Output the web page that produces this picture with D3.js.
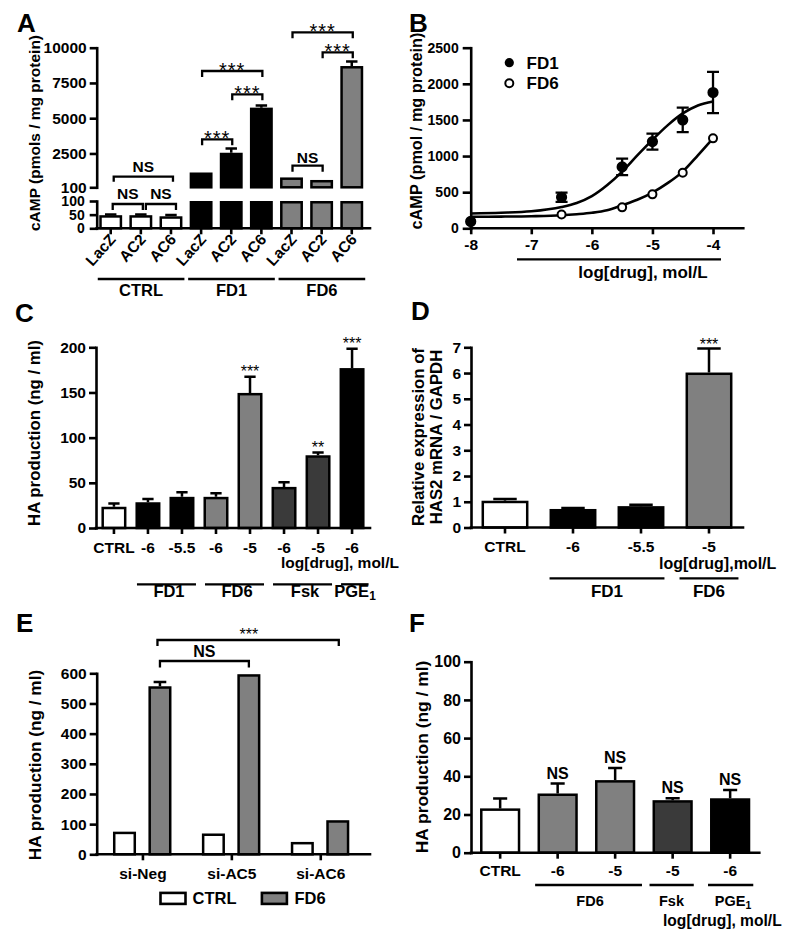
<!DOCTYPE html>
<html><head><meta charset="utf-8">
<script src="https://cdn.jsdelivr.net/npm/d3@7"></script>
<style>body{margin:0;background:#fff}svg{display:block}</style>
</head><body>
<script>
// ================= DATA =================
// Panel A
const aGroups = ["CTRL","FD1","FD6"];
const aConstructs = ["LacZ","AC2","AC6"];
const aValues = [48,48,44, 1150,2550,5750, 800,620,8700];
const aErrors = [3,3,5, 0,300,150, 0,15,330];
const aUpperTicks = [100,2500,5000,7500,10000];
const aLowerTicks = [0,50,100];
// Panel B
const bDoses = [-8,-6.5,-5.5,-5,-4.5,-4];
const bFD1 = [95,430,850,1200,1500,1880];
const bFD1Err = [0,65,115,110,170,285];
const bFD6 = [90,190,290,470,770,1245];
const bFD6Err = [0,0,0,0,0,0];
const bFitDoses = [-8,-7.5,-7,-6.5,-6.25,-6,-5.75,-5.5,-5.25,-5,-4.75,-4.5,-4.25,-4];
const bFitFD1 = [205,215,235,295,350,445,595,785,1010,1225,1425,1590,1700,1755];
const bFitFD6 = [160,162,167,180,195,215,250,320,395,495,625,785,1010,1245];
const bXTicks = [-8,-7,-6,-5,-4];
const bYTicks = [0,500,1000,1500,2000,2500];
// Panel C
const cLabels = ["CTRL","-6","-5.5","-6","-5","-6","-5","-6"];
const cGroups = ["CTRL","FD1","FD1","FD6","FD6","Fsk","Fsk","PGE1"];
const cValues = [23.5,28.5,34.5,34.5,149.5,45.5,80.5,177];
const cErrors = [3.5,3.5,5,4,18,5,3,21.5];
const cStars = ["","","","","***","","**","***"];
const cYTicks = [0,50,100,150,200];
// Panel D
const dLabels = ["CTRL","-6","-5.5","-5"];
const dGroups = ["CTRL","FD1","FD1","FD6"];
const dValues = [1.04,0.72,0.83,6.02];
const dErrors = [0.07,0.04,0.05,0.93];
const dStars = ["","","","***"];
const dYTicks = [0,1,2,3,4,5,6,7];
// Panel E
const eGroups = ["si-Neg","si-AC5","si-AC6"];
const eSeries = ["CTRL","FD6"];
const eCTRL = [75,69,41];
const eCTRLErr = [2,1,1];
const eFD6 = [557,597,113];
const eFD6Err = [14,2,1];
const eYTicks = [0,100,200,300,400,500,600];
// Panel F
const fLabels = ["CTRL","-6","-5","-5","-6"];
const fGroups = ["CTRL","FD6","FD6","Fsk","PGE1"];
const fValues = [23.2,31,38,27.5,28.5];
const fErrors = [5.2,5.2,6.4,1,4.3];
const fSig = ["","NS","NS","NS","NS"];
const fYTicks = [0,20,40,60,80,100];

// ================= DRAWING =================
const FF = "'Liberation Sans', Arial, Helvetica, sans-serif";
const SW = 2.6;
const fillScale = d3.scaleOrdinal().domain(["CTRL","FD1","FD6","Fsk","PGE1"])
  .range(["#ffffff","#000000","#808080","#3a3a3a","#000000"]);

const svg = d3.select("body").append("svg").attr("width",800).attr("height",938)
  .style("font-family",FF);

function addText(g,x,y,s,o={}){
  const t=g.append("text").attr("x",x).attr("y",y).text(s)
    .attr("font-family",FF).attr("font-weight",o.weight||"bold").attr("font-size",o.size||15.5)
    .attr("text-anchor",o.anchor||"middle").attr("fill","#000");
  if(o.rotate!=null) t.attr("transform",`rotate(${o.rotate},${x},${y})`);
  if(o.ls) t.attr("letter-spacing",o.ls);
  return t;
}
function styleAxis(ax,size){
  ax.attr("font-family",FF).attr("font-size",size||15.5).attr("font-weight","bold");
  ax.selectAll("path.domain").attr("stroke","#000").attr("stroke-width",SW).attr("stroke-linecap","square");
  ax.selectAll(".tick line").attr("stroke","#000").attr("stroke-width",SW);
  ax.selectAll(".tick text").attr("fill","#000");
}
function yAxis(g,scale,ticks,x,size,tick,pad){
  const ax=g.append("g").attr("transform",`translate(${x},0)`)
    .call(d3.axisLeft(scale).tickValues(ticks).tickSize(tick||7).tickSizeOuter(0).tickPadding(pad||3).tickFormat(d3.format("d")));
  styleAxis(ax,size);
  return ax;
}
function xAxis(g,scale,y,x1,x2,labels,pad,size,tickVals){
  const axis=d3.axisBottom(scale).tickSize(6).tickSizeOuter(0).tickPadding(pad||7);
  if(tickVals) axis.tickValues(tickVals);
  if(labels) axis.tickFormat((d,i)=>labels[i]); else axis.tickFormat("");
  const ax=g.append("g").attr("transform",`translate(0,${y})`).call(axis);
  styleAxis(ax,size);
  ax.select("path.domain").remove();
  g.append("line").attr("x1",x1).attr("x2",x2).attr("y1",y).attr("y2",y)
    .attr("stroke","#000").attr("stroke-width",SW).attr("stroke-linecap","square");
  return ax;
}
function drawBar(g,x,y0,y1,w,fill){
  const s=2.5;
  g.append("rect").attr("x",x+s/2).attr("y",y0+s/2).attr("width",w-s)
    .attr("height",Math.max(0,y1-y0-s/2)).attr("fill",fill).attr("stroke","#000").attr("stroke-width",s);
}
function errBar(g,cx,yTop,yErr,cap){
  if(yTop-yErr<0.8) return;
  g.append("path").attr("d",`M${cx},${yTop}V${yErr}M${cx-cap/2},${yErr}H${cx+cap/2}`)
    .attr("stroke","#000").attr("stroke-width",2.5).attr("fill","none");
}
function bracket(g,x1,x2,y,leg){
  g.append("path").attr("d",`M${x1},${y+leg}V${y}H${x2}V${y+leg}`)
    .attr("fill","none").attr("stroke","#000").attr("stroke-width",2.3);
}
function hline(g,x1,x2,y){
  g.append("line").attr("x1",x1).attr("x2",x2).attr("y1",y).attr("y2",y)
    .attr("stroke","#000").attr("stroke-width",2.3);
}
function subLabel(g,x,y,base,sub,size){
  const t=addText(g,x,y,"",{size});
  t.append("tspan").text(base);
  t.append("tspan").text(sub).attr("font-size",size*0.72).attr("dy",3);
  return t;
}

// ---------- Panel A ----------
(function(){
  const g=svg.append("g");
  addText(g,17,32,"A",{size:26,anchor:"start"});
  const xA=d3.scaleBand().domain(d3.range(aValues.length)).range([97,370])
    .paddingInner(0.24).paddingOuter(0.15).align(0.25);
  const yU=d3.scaleLinear().domain([100,10000]).range([187.3,47.7]);
  const yL=d3.scaleLinear().domain([0,100]).range([228.3,201]);
  const w=xA.bandwidth();
  aValues.forEach((v,i)=>{
    const grp=aGroups[Math.floor(i/3)], x=xA(i), f=fillScale(grp);
    drawBar(g,x,yL(Math.min(v,100)),yL(0),w,f);
    if(v>100) drawBar(g,x,yU(v),yU(100),w,f);
    const e=aErrors[i];
    if(e>0){
      if(v>100) errBar(g,x+w/2,yU(v),yU(v+e),w*0.5);
      else errBar(g,x+w/2,yL(v),yL(v+e),w*0.5);
    }
  });
  yAxis(g,yU,aUpperTicks,96.7,15.5);
  yAxis(g,yL,aLowerTicks,96.7,14,7,5);
  xAxis(g,xA,228.3,96.7,370,null);
  aValues.forEach((v,i)=>{
    addText(g,xA(i)+w/2+6,240,aConstructs[i%3],{anchor:"end",rotate:-48,size:15.5});
  });
  aGroups.forEach((grp,k)=>{
    const x1=xA(3*k)-1.5, x2=xA(3*k+2)+w+2;
    hline(g,x1,x2,279);
    addText(g,(x1+x2)/2,296,grp,{size:16.5});
  });
  const c=i=>xA(i)+w/2;
  // [i1,i2,dx1,dx2,yTop,leg,label,labelBaseline]
  const brk=[[0,2,3,2,176.7,5,"NS",172],[0,1,2,2,204,6,"NS",199],[1,2,5,5,204,6,"NS",199],
    [3,4,1,1,139.3,6,"***",145],[4,5,1,1,94.3,6,"***",100],[3,5,1,1,71,6,"***",77],
    [6,7,1,1,165.7,6,"NS",163],[7,8,1,1,52.3,6,"***",58],[6,8,1,1,32.3,6,"***",38]];
  brk.forEach(b=>{
    const x1=c(b[0])+b[2], x2=c(b[1])+b[3];
    bracket(g,x1,x2,b[4],b[5]);
    if(b[6]==="NS") addText(g,(x1+x2)/2,b[7],"NS",{size:15.5});
    else addText(g,(x1+x2)/2,b[7],"***",{size:20,weight:"normal",ls:1});
  });
  addText(g,40,133,"cAMP (pmols / mg protein)",{size:15.5,rotate:-90});
})();

// ---------- Panel B ----------
(function(){
  const g=svg.append("g");
  addText(g,409,32,"B",{size:26,anchor:"start"});
  const x=d3.scaleLinear().domain([-8,-3.5]).range([470.7,743.3]);
  const y=d3.scaleLinear().domain([0,2500]).range([228.3,47.7]);
  yAxis(g,y,bYTicks,470.7,14,8,4);
  xAxis(g,x,228.3,470.7,743.3,bXTicks.map(String),5,15.5,bXTicks);
  hline(g,517,721,259.3);
  addText(g,643,278,"log[drug], mol/L",{size:17});
  const line=d3.line().x(d=>x(d[0])).y(d=>y(d[1])).curve(d3.curveMonotoneX);
  [bFitFD1,bFitFD6].forEach(vals=>{
    g.append("path").attr("d",line(bFitDoses.map((d,i)=>[d,vals[i]])))
      .attr("fill","none").attr("stroke","#000").attr("stroke-width",2.6);
  });
  [[bFD6,bFD6Err,"#fff"],[bFD1,bFD1Err,"#000"]].forEach(([vals,errs,fill])=>{
    vals.forEach((v,i)=>{
      const cx=x(bDoses[i]);
      if(errs[i]>0){
        g.append("path").attr("d",`M${cx},${y(v-errs[i])}V${y(v+errs[i])}M${cx-6},${y(v+errs[i])}H${cx+6}M${cx-6},${y(v-errs[i])}H${cx+6}`)
          .attr("stroke","#000").attr("stroke-width",2.3).attr("fill","none");
      }
    });
    vals.forEach((v,i)=>{
      g.append("circle").attr("cx",x(bDoses[i])).attr("cy",y(v)).attr("r",fill==="#000"?4.6:4.0)
        .attr("fill",fill).attr("stroke","#000").attr("stroke-width",2);
    });
  });
  g.append("circle").attr("cx",509.3).attr("cy",62.7).attr("r",4.6).attr("fill","#000");
  g.append("circle").attr("cx",509.3).attr("cy",83.3).attr("r",4.0).attr("fill","#fff").attr("stroke","#000").attr("stroke-width",2);
  addText(g,526.5,68.8,"FD1",{size:17,anchor:"start"});
  addText(g,526.5,89.4,"FD6",{size:17,anchor:"start"});
  addText(g,422,131,"cAMP (pmol / mg protein)",{size:16.3,rotate:-90});
})();

// ---------- Panel C ----------
(function(){
  const g=svg.append("g");
  addText(g,15,321.7,"C",{size:26,anchor:"start"});
  const x=d3.scaleBand().domain(d3.range(cValues.length)).range([96,370]).paddingInner(0.265).paddingOuter(0.16);
  const y=d3.scaleLinear().domain([0,200]).range([528,347.3]);
  const w=x.bandwidth();
  cValues.forEach((v,i)=>{
    drawBar(g,x(i),y(v),y(0),w,fillScale(cGroups[i]));
    errBar(g,x(i)+w/2,y(v),y(v+cErrors[i]),w*0.45);
    if(cStars[i]) addText(g,x(i)+w/2,y(v+cErrors[i])+0.5,cStars[i],{size:16,weight:"normal"});
  });
  yAxis(g,y,cYTicks,96);
  xAxis(g,x,528,96,370,cLabels,7.5);
  addText(g,281,568,"log[drug], mol/L",{size:15.5,anchor:"start"});
  const grp=[[1,2,"FD1"],[3,4,"FD6"],[5,6,"Fsk"],[7,7,"PGE1"]];
  grp.forEach(([a,b,lab])=>{
    const x1=x(a)+1.5, x2=x(b)+w+(a===b?4:1.5);
    hline(g,x1,x2,584.3);
    if(lab==="PGE1") subLabel(g,355,597,"PGE","1",16.5);
    else addText(g,(x1+x2)/2+2.5,597,lab,{size:16.5});
  });
  addText(g,40,433,"HA production (ng / ml)",{size:16.8,rotate:-90});
})();

// ---------- Panel D ----------
(function(){
  const g=svg.append("g");
  addText(g,411,320,"D",{size:26,anchor:"start"});
  const x=d3.scaleBand().domain(d3.range(dValues.length)).range([471,743]).paddingInner(0.31).paddingOuter(0.155);
  const y=d3.scaleLinear().domain([0,7]).range([527.5,347.3]);
  const w=x.bandwidth();
  dValues.forEach((v,i)=>{
    drawBar(g,x(i),y(v),y(0),w,fillScale(dGroups[i]));
    errBar(g,x(i)+w/2,y(v),y(v+dErrors[i]),w*0.5);
    if(dStars[i]) addText(g,x(i)+w/2,y(v+dErrors[i])+1,dStars[i],{size:16,weight:"normal"});
  });
  yAxis(g,y,dYTicks,471);
  xAxis(g,x,527.5,471,743,dLabels,7.5);
  addText(g,659,569,"log[drug],mol/L",{size:16,anchor:"start"});
  hline(g,x(1),x(2)+w,578.3);
  addText(g,(x(1)+x(2)+w)/2,597,"FD1",{size:17});
  hline(g,x(3)-6,x(3)+w+6,578.3);
  addText(g,x(3)+w/2,597,"FD6",{size:17});
  addText(g,424,437,"Relative expression of",{size:16.8,rotate:-90});
  addText(g,442,437,"HAS2 mRNA / GAPDH",{size:16.8,rotate:-90});
})();

// ---------- Panel E ----------
(function(){
  const g=svg.append("g");
  addText(g,16,632,"E",{size:26,anchor:"start"});
  const x0=d3.scaleBand().domain(eGroups).range([96.7,367]).paddingOuter(0.02);
  const x1=d3.scaleBand().domain(eSeries).range([14.5,73]).paddingInner(0.35);
  const y=d3.scaleLinear().domain([0,600]).range([854.3,673.3]);
  const w=x1.bandwidth();
  const series={CTRL:[eCTRL,eCTRLErr],FD6:[eFD6,eFD6Err]};
  eGroups.forEach((grp,k)=>{
    eSeries.forEach(s=>{
      const v=series[s][0][k], e=series[s][1][k], bx=x0(grp)+x1(s);
      drawBar(g,bx,y(v),y(0),w,fillScale(s));
      errBar(g,bx+w/2,y(v),y(v+e),w*0.55);
    });
  });
  yAxis(g,y,eYTicks,96.7);
  xAxis(g,x0,854.3,96.7,370,eGroups,7.5);
  const cF=k=>x0(eGroups[k])+x1("FD6")+w/2;
  bracket(g,cF(0),cF(1),661,6.5);
  addText(g,(cF(0)+cF(1))/2,657.3,"NS",{size:16});
  bracket(g,cF(0)-2.5,cF(2)+1,640,6);
  addText(g,(cF(0)+cF(2))/2,640,"***",{size:16,weight:"normal"});
  // legend
  g.append("rect").attr("x",160.5).attr("y",892.9).attr("width",25).attr("height",11).attr("fill","#fff").attr("stroke","#000").attr("stroke-width",2.6);
  addText(g,192.5,904.3,"CTRL",{size:16.5,anchor:"start"});
  g.append("rect").attr("x",261.9).attr("y",892.9).attr("width",25).attr("height",11).attr("fill","#808080").attr("stroke","#000").attr("stroke-width",2.6);
  addText(g,294.5,904.3,"FD6",{size:16.5,anchor:"start"});
  addText(g,40.5,765,"HA production (ng / ml)",{size:17.2,rotate:-90});
})();

// ---------- Panel F ----------
(function(){
  const g=svg.append("g");
  addText(g,409,632,"F",{size:26,anchor:"start"});
  const x=d3.scaleBand().domain(d3.range(fValues.length)).range([471,759.3]).paddingInner(0.3).paddingOuter(0.157);
  const y=d3.scaleLinear().domain([0,100]).range([852.7,661.7]);
  const w=x.bandwidth();
  fValues.forEach((v,i)=>{
    drawBar(g,x(i),y(v),y(0),w,fillScale(fGroups[i]));
    errBar(g,x(i)+w/2,y(v),y(v+fErrors[i]),w*0.35);
    if(fSig[i]) addText(g,x(i)+w/2,y(v+fErrors[i])-5,fSig[i],{size:16});
  });
  yAxis(g,y,fYTicks,471,16);
  xAxis(g,x,852.7,471,759.3,fLabels,6);
  hline(g,x(1)-2.4,x(2)+w+6.7,885);
  addText(g,590,906,"FD6",{size:14.5});
  hline(g,x(3)-3,x(3)+w+1,885);
  addText(g,671.5,906,"Fsk",{size:14.5});
  hline(g,x(4)-2,x(4)+w+3,885);
  subLabel(g,733,906,"PGE","1",14.5);
  addText(g,663,925.5,"log[drug], mol/L",{size:15.6,anchor:"start"});
  addText(g,427.5,757,"HA production (ng / ml)",{size:17.4,rotate:-90});
})();
</script>
</body></html>
